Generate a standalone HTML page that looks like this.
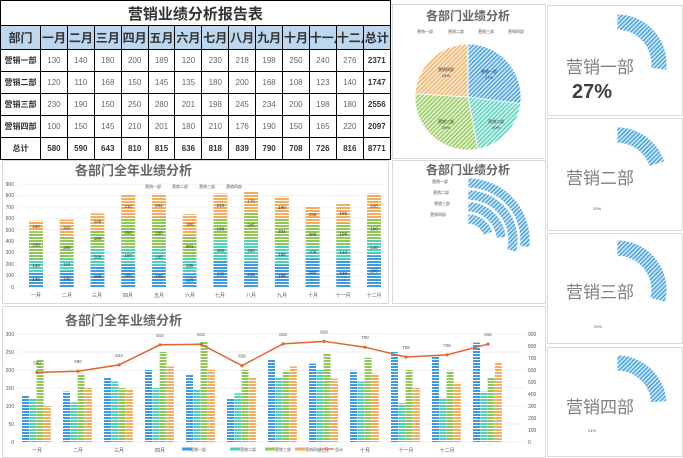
<!DOCTYPE html>
<html><head><meta charset="utf-8">
<style>
body{margin:0;width:683px;height:458px;background:#fff;overflow:hidden;font-family:"Liberation Sans","Noto Sans CJK SC",sans-serif;position:relative}
table{position:absolute;left:0;top:0;width:390px;height:158px;border-collapse:collapse;table-layout:fixed}
td{border:1px solid #000;text-align:center;padding:0;font-size:8px;color:#666;overflow:hidden;white-space:nowrap}
tr.t td{font-size:15px;font-weight:bold;color:#333;height:24px}
tr.h td{background:#bdd7ee;font-weight:bold;font-size:12px;color:#333;height:23px}
td.n{font-weight:bold;color:#333;font-size:8px}
tr.d td{height:21px}
svg{position:absolute;left:0;top:0}
</style></head><body>
<table>
<colgroup><col style="width:40px"><col span="12" style="width:26.9px"><col style="width:27px"></colgroup>
<tr class="t"><td colspan="14">营销业绩分析报告表</td></tr>
<tr class="h"><td>部门</td><td>一月</td><td>二月</td><td>三月</td><td>四月</td><td>五月</td><td>六月</td><td>七月</td><td>八月</td><td>九月</td><td>十月</td><td>十一月</td><td>十二月</td><td>总计</td></tr>
<tr class="d"><td class="n">营销一部</td><td>130</td><td>140</td><td>180</td><td>200</td><td>189</td><td>120</td><td>230</td><td>218</td><td>198</td><td>250</td><td>240</td><td>276</td><td class="n">2371</td></tr>
<tr class="d"><td class="n">营销二部</td><td>120</td><td>110</td><td>168</td><td>150</td><td>145</td><td>135</td><td>180</td><td>200</td><td>168</td><td>108</td><td>123</td><td>140</td><td class="n">1747</td></tr>
<tr class="d"><td class="n">营销三部</td><td>230</td><td>190</td><td>150</td><td>250</td><td>280</td><td>201</td><td>198</td><td>245</td><td>234</td><td>200</td><td>198</td><td>180</td><td class="n">2556</td></tr>
<tr class="d"><td class="n">营销四部</td><td>100</td><td>150</td><td>145</td><td>210</td><td>201</td><td>180</td><td>210</td><td>176</td><td>190</td><td>150</td><td>165</td><td>220</td><td class="n">2097</td></tr>
<tr class="d"><td class="n">总计</td><td class="n">580</td><td class="n">590</td><td class="n">643</td><td class="n">810</td><td class="n">815</td><td class="n">636</td><td class="n">818</td><td class="n">839</td><td class="n">790</td><td class="n">708</td><td class="n">726</td><td class="n">816</td><td class="n">8771</td></tr>
</table>
<svg id="s" width="683" height="458" xmlns="http://www.w3.org/2000/svg" font-family="Liberation Sans, Noto Sans CJK SC, sans-serif">
<defs>
<pattern id="hb" width="4" height="3" patternUnits="userSpaceOnUse"><rect width="4" height="3" fill="#fff"/><rect width="4" height="2" fill="#3d9be0"/></pattern>
<pattern id="ht" width="4" height="3" patternUnits="userSpaceOnUse"><rect width="4" height="3" fill="#fff"/><rect width="4" height="2" fill="#4fd0bb"/></pattern>
<pattern id="hg" width="4" height="3" patternUnits="userSpaceOnUse"><rect width="4" height="3" fill="#fff"/><rect width="4" height="2" fill="#8fc855"/></pattern>
<pattern id="ho" width="4" height="3" patternUnits="userSpaceOnUse"><rect width="4" height="3" fill="#fff"/><rect width="4" height="2" fill="#f2ad5e"/></pattern>
<pattern id="db" width="3" height="3" patternUnits="userSpaceOnUse" patternTransform="rotate(45)"><rect width="3" height="3" fill="#cfe9fb"/><rect width="1.3" height="3" fill="#3d9be0"/></pattern>
<pattern id="dt" width="3" height="3" patternUnits="userSpaceOnUse" patternTransform="rotate(45)"><rect width="3" height="3" fill="#d5f5ee"/><rect width="1.3" height="3" fill="#4fd0bb"/></pattern>
<pattern id="dg" width="3" height="3" patternUnits="userSpaceOnUse" patternTransform="rotate(45)"><rect width="3" height="3" fill="#e6f3d6"/><rect width="1.3" height="3" fill="#8fc855"/></pattern>
<pattern id="do" width="3" height="3" patternUnits="userSpaceOnUse" patternTransform="rotate(45)"><rect width="3" height="3" fill="#fdeedb"/><rect width="1.3" height="3" fill="#f2ad5e"/></pattern>
</defs>
<g fill="none" stroke="#d9d9d9">
<rect x="2.5" y="160.5" width="386" height="143"/>
<rect x="392.5" y="4.5" width="153" height="154"/>
<rect x="392.5" y="160.5" width="153" height="143"/>
<rect x="2.5" y="306.5" width="543" height="151"/>
<rect x="547.5" y="5.5" width="135" height="110"/>
<rect x="547.5" y="118.5" width="135" height="112"/>
<rect x="547.5" y="233.5" width="135" height="110"/>
<rect x="547.5" y="347.5" width="135" height="109"/>
</g>
<g font-weight="bold" fill="#666">
<text x="75" y="175" font-size="13">各部门全年业绩分析</text>
<text x="426" y="20" font-size="12">各部门业绩分析</text>
<text x="426" y="174" font-size="12">各部门业绩分析</text>
<text x="65" y="325" font-size="13">各部门全年业绩分析</text>
</g>
<g fill="#7f7f7f" font-size="17">
<text x="566" y="73">营销一部</text>
<text x="566" y="184">营销二部</text>
<text x="566" y="298">营销三部</text>
<text x="566" y="413">营销四部</text>
</g>
<text x="572" y="98" font-size="20" font-weight="bold" fill="#404040">27%</text>
<g font-size="4" fill="#555"><text x="593" y="210">20%</text><text x="594" y="328">29%</text><text x="588" y="432">24%</text></g>
<g font-size="5" fill="#555" text-anchor="end">
<text x="14" y="186">900</text><text x="14" y="197">800</text><text x="14" y="209">700</text><text x="14" y="220">600</text><text x="14" y="232">500</text><text x="14" y="243">400</text><text x="14" y="254">300</text><text x="14" y="266">200</text><text x="14" y="277">100</text><text x="14" y="289">0</text>
<text x="14" y="336">300</text><text x="14" y="354">250</text><text x="14" y="372">200</text><text x="14" y="390">150</text><text x="14" y="408">100</text><text x="14" y="426">50</text><text x="14" y="444">0</text>
</g>
<g font-size="5" fill="#555">
<text x="528" y="336">900</text><text x="528" y="348">800</text><text x="528" y="360">700</text><text x="528" y="372">600</text><text x="528" y="384">500</text><text x="528" y="396">400</text><text x="528" y="408">300</text><text x="528" y="420">200</text><text x="528" y="432">100</text><text x="528" y="444">0</text>
</g>
<g font-size="5" fill="#555" text-anchor="middle">
<text x="36" y="297">一月</text><text x="67" y="297">二月</text><text x="97" y="297">三月</text><text x="128" y="297">四月</text><text x="159" y="297">五月</text><text x="190" y="297">六月</text><text x="220" y="297">七月</text><text x="251" y="297">八月</text><text x="282" y="297">九月</text><text x="313" y="297">十月</text><text x="343" y="297">十一月</text><text x="374" y="297">十二月</text>
<text x="37" y="452">一月</text><text x="78" y="452">二月</text><text x="119" y="452">三月</text><text x="160" y="452">四月</text><text x="324" y="452">九月</text><text x="365" y="452">十月</text><text x="406" y="452">十一月</text><text x="447" y="452">十二月</text>
</g>
<g font-size="4" fill="#555">
<text x="145" y="188">营销一部</text><text x="172" y="188">营销二部</text><text x="199" y="188">营销三部</text><text x="226" y="188">营销四部</text>
<text x="417" y="33">营销一部</text><text x="448" y="33">营销二部</text><text x="478" y="33">营销三部</text><text x="508" y="33">营销四部</text>
<text x="432" y="183">营销一部</text><text x="433" y="194">营销二部</text><text x="434" y="205">营销三部</text><text x="430" y="216">营销四部</text>
<text x="190" y="451">营销一部</text><text x="240" y="451">营销二部</text><text x="275" y="451">营销三部</text><text x="305" y="451">营销四部</text><text x="335" y="451">总计</text>
</g>
<g font-size="4" fill="#333" text-anchor="middle">
<text x="489" y="73">营销一部</text><text x="489" y="79">27%</text>
<text x="496" y="123">营销二部</text><text x="496" y="129">20%</text>
<text x="446" y="123">营销三部</text><text x="446" y="129">29%</text>
<text x="446" y="71">营销四部</text><text x="446" y="77">24%</text>
</g>
<g id="dyn"></g>
</svg>
<script>
var d1=[130,140,180,200,189,120,230,218,198,250,240,276],d2=[120,110,168,150,145,135,180,200,168,108,123,140],d3=[230,190,150,250,280,201,198,245,234,200,198,180],d4=[100,150,145,210,201,180,210,176,190,150,165,220];
var D=[d1,d2,d3,d4],H=['hb','ht','hg','ho'],P=['db','dt','dg','do'];
var o='';
for(var v=0;v<=900;v+=100){var y=287-v*0.1144;o+='<line x1="18" x2="385" y1="'+y+'" y2="'+y+'" stroke="#eee" stroke-width="0.6"/>';}
for(var v=0;v<=300;v+=50){var y=442-v*0.36;o+='<line x1="18" x2="525" y1="'+y+'" y2="'+y+'" stroke="#e6e6e6" stroke-width="0.6"/>';}
var lab='';
for(var i=0;i<12;i++){var c=36+i*30.73,y=287;for(var k=0;k<4;k++){var h=D[k][i]*0.1144;y-=h;o+='<rect x="'+(c-7)+'" y="'+y+'" width="14" height="'+h+'" fill="url(#'+H[k]+')"/>';lab+='<text x="'+c+'" y="'+(y+h/2+1.5)+'" font-size="4.5" fill="#333" text-anchor="middle">'+D[k][i]+'</text>';}
 var g=22+i*41;for(var k=0;k<4;k++){var h=D[k][i]*0.36;o+='<rect x="'+(g+k*7.3)+'" y="'+(442-h)+'" width="7" height="'+h+'" fill="url(#'+H[k]+')"/>';}}
o+=lab;
var pts=[];for(var i=0;i<12;i++){var t=d1[i]+d2[i]+d3[i]+d4[i];var x=37+i*41,y=442-t*0.12;pts.push(x+','+y);o+='<circle cx="'+x+'" cy="'+y+'" r="1.6" fill="#e0652e"/><text x="'+x+'" y="'+(y-8)+'" font-size="4.5" fill="#555" text-anchor="middle">'+t+'</text>';}
o+='<polyline points="'+pts.join(' ')+'" fill="none" stroke="#e0652e" stroke-width="1.5"/>';
o+='<line x1="182" x2="192" y1="449" y2="449" stroke="#3d9be0" stroke-width="3"/><line x1="230" x2="240" y1="449" y2="449" stroke="#4fd0bb" stroke-width="3"/><line x1="265" x2="275" y1="449" y2="449" stroke="#8fc855" stroke-width="3"/><line x1="295" x2="305" y1="449" y2="449" stroke="#f2ad5e" stroke-width="3"/><line x1="322" x2="334" y1="449" y2="449" stroke="#e0652e" stroke-width="1.2"/>';
function pt(cx,cy,r,a){a=a*Math.PI/180;return [cx+r*Math.sin(a),cy-r*Math.cos(a)];}
function ring(cx,cy,r1,r2,a0,a1,f){var p=pt(cx,cy,r2,a0),q=pt(cx,cy,r2,a1),s=pt(cx,cy,r1,a1),t=pt(cx,cy,r1,a0),l=(a1-a0)>180?1:0;
return '<path d="M'+p+' A'+r2+','+r2+' 0 '+l+' 1 '+q+' L'+s+' A'+r1+','+r1+' 0 '+l+' 0 '+t+'Z" fill="url(#'+f+')" stroke="#fff" stroke-width="0.8"/>';}
var pc=[27,20,29,24],a=0,pie='';for(var k=0;k<4;k++){var b=a+pc[k]*3.6;pie+=ring(468,97,0.01,53,a,b,P[k]);a=b;}
o=pie+o;
o+=ring(617,64,34,50,0,97,'db')+ring(617,177,34,50,0,72,'db')+ring(617,290,34,50,0,104,'db')+ring(617,405,34,50,0,86,'db');
o+=ring(468,240,52,62,0,97,'db')+ring(468,240,40,50,0,104,'db')+ring(468,240,28,38,0,86,'db')+ring(468,240,16,26,0,72,'db');
var el=document.getElementById('dyn');el.innerHTML=o;
el.parentNode.insertBefore(el,el.parentNode.querySelector('g[font-size="4"][fill="#333"]'));
</script>
</body></html>
